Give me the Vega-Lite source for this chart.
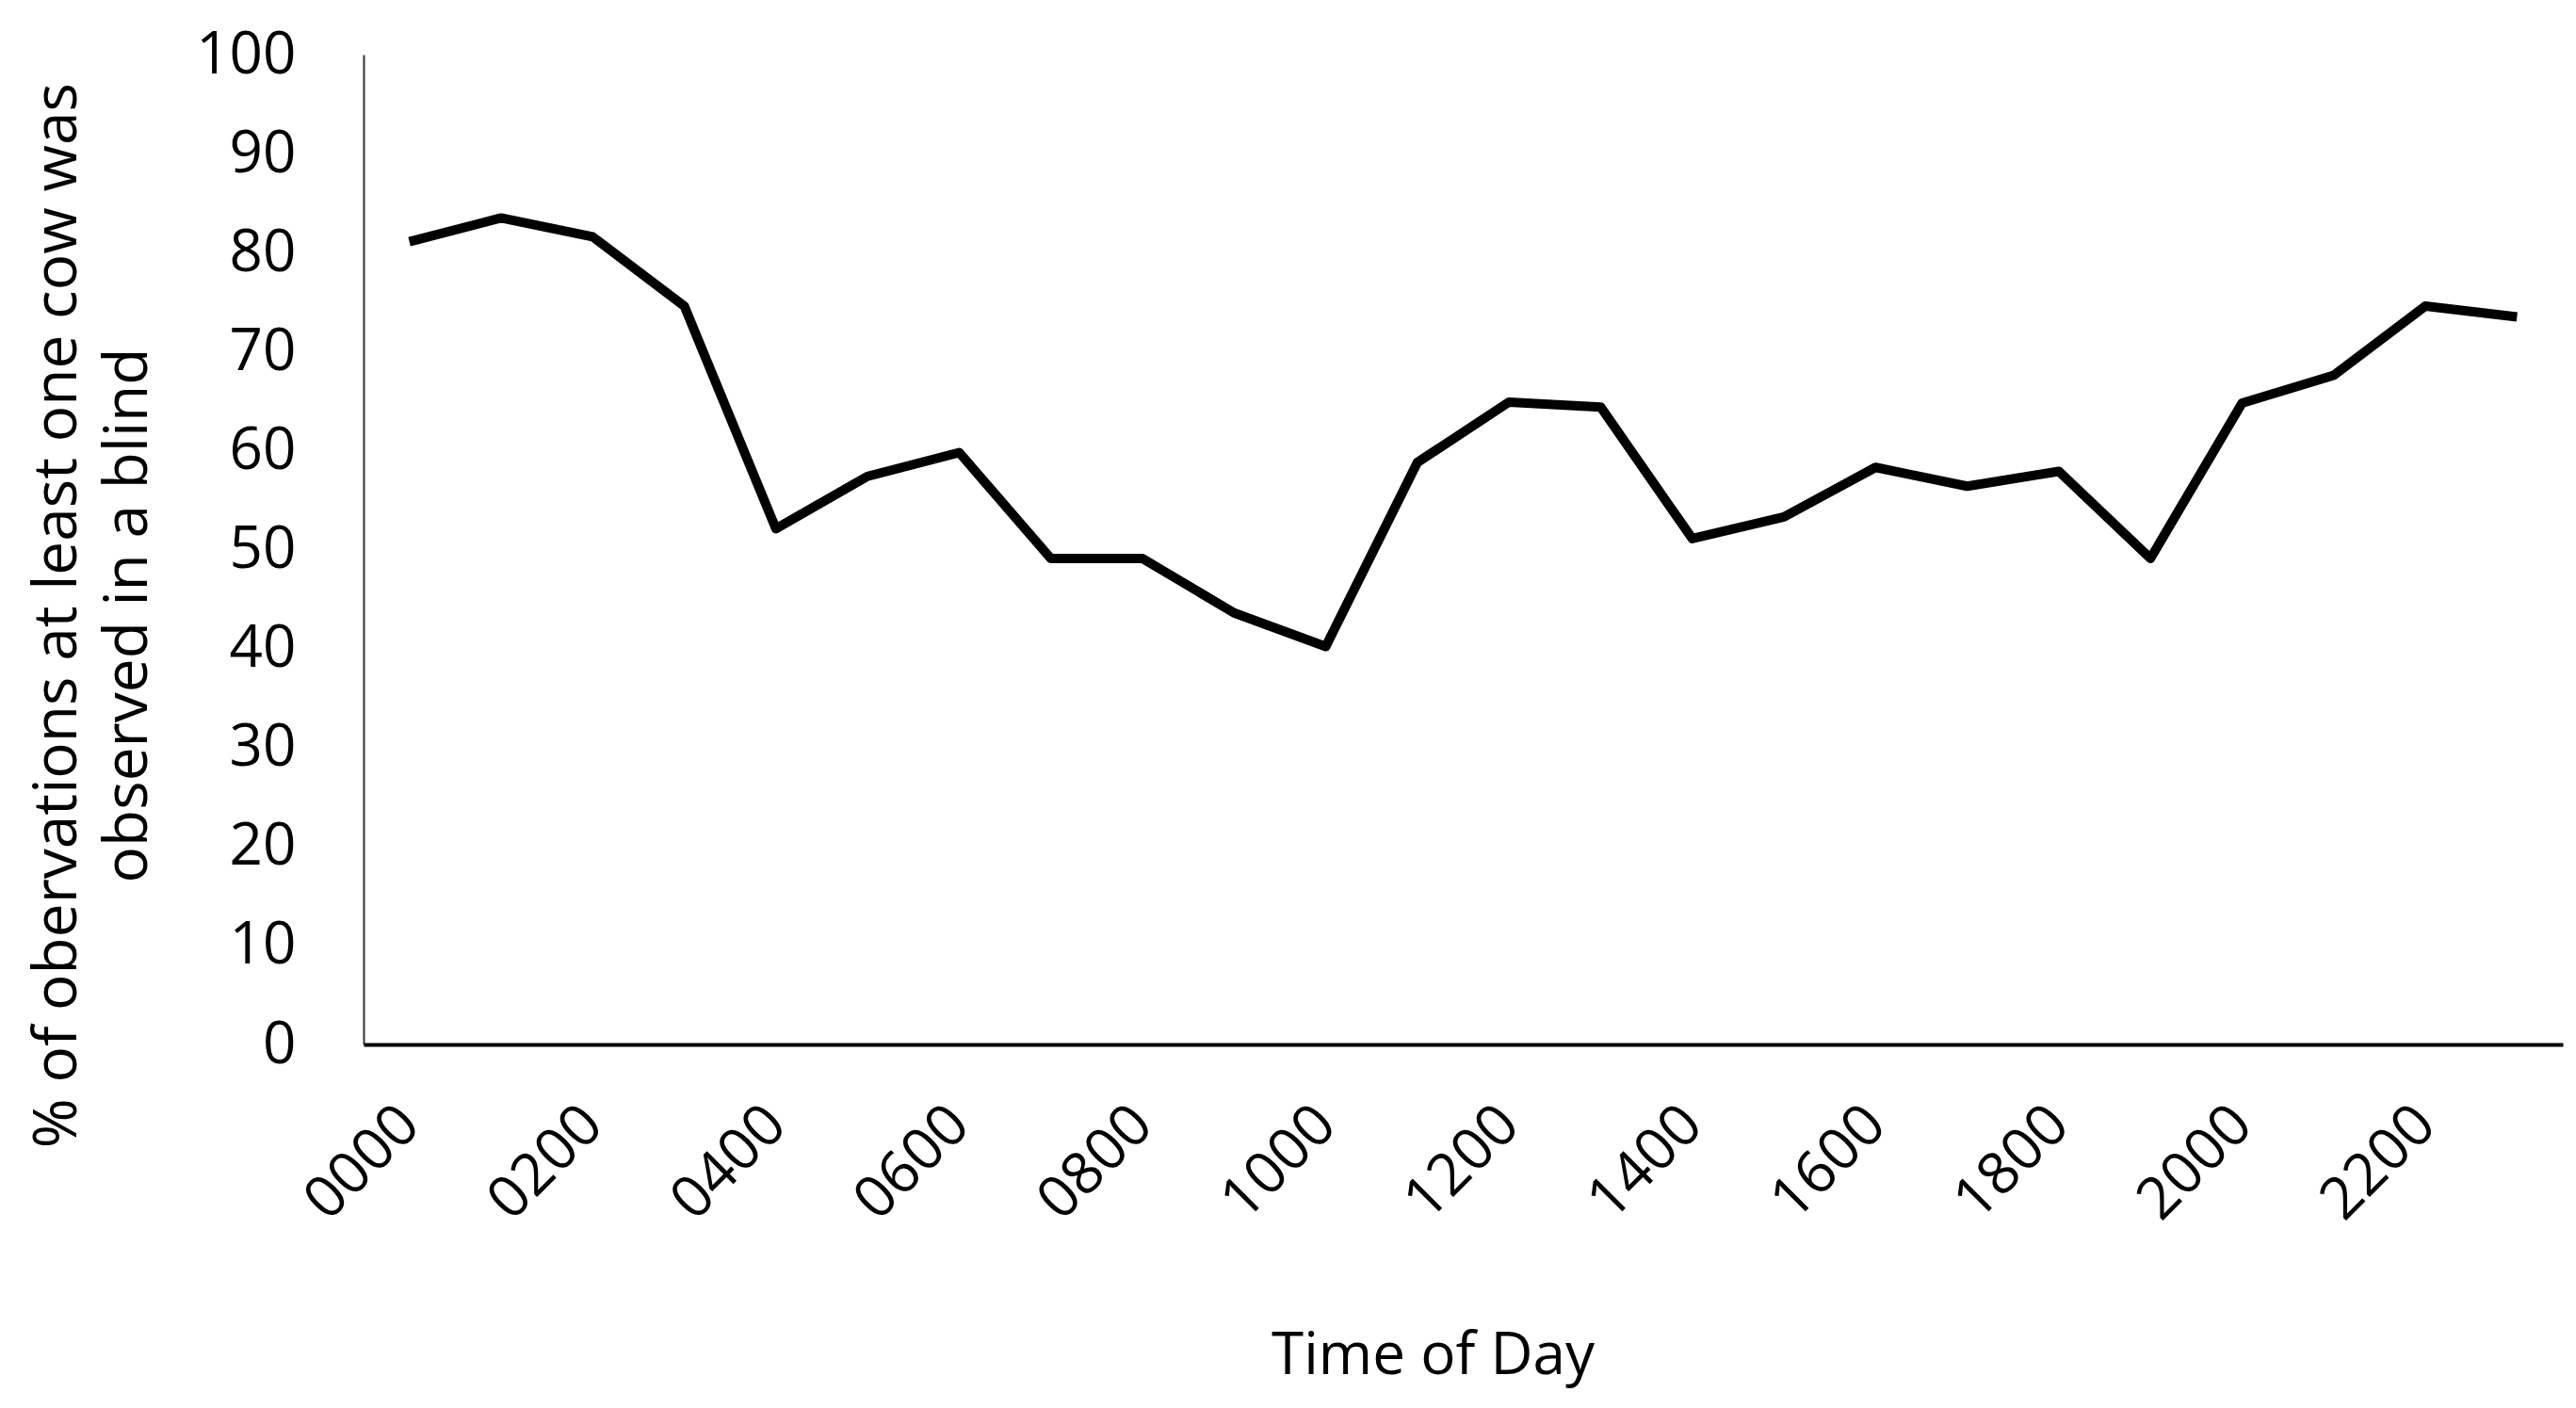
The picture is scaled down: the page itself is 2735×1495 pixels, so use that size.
{
  "$schema": "https://vega.github.io/schema/vega-lite/v6.json",
  "autosize": "none",
  "width": 2335,
  "height": 1051,
  "padding": {"left": 386, "top": 58, "right": 14, "bottom": 386},
  "background": "white",
  "data": {
    "values": [
      {"time": "0000", "pct": 81.1},
      {"time": "0100", "pct": 83.5},
      {"time": "0200", "pct": 81.6},
      {"time": "0300", "pct": 74.6},
      {"time": "0400", "pct": 52.1},
      {"time": "0500", "pct": 57.4},
      {"time": "0600", "pct": 59.8},
      {"time": "0700", "pct": 49.1},
      {"time": "0800", "pct": 49.1},
      {"time": "0900", "pct": 43.6},
      {"time": "1000", "pct": 40.2},
      {"time": "1100", "pct": 58.8},
      {"time": "1200", "pct": 64.9},
      {"time": "1300", "pct": 64.4},
      {"time": "1400", "pct": 51.1},
      {"time": "1500", "pct": 53.3},
      {"time": "1600", "pct": 58.3},
      {"time": "1700", "pct": 56.4},
      {"time": "1800", "pct": 57.9},
      {"time": "1900", "pct": 49.1},
      {"time": "2000", "pct": 64.8},
      {"time": "2100", "pct": 67.6},
      {"time": "2200", "pct": 74.6},
      {"time": "2300", "pct": 73.5}
    ]
  },
  "mark": {"type": "line", "color": "black", "strokeWidth": 10, "strokeJoin": "round", "strokeCap": "butt"},
  "encoding": {
    "x": {
      "field": "time",
      "type": "ordinal",
      "sort": null,
      "scale": {"type": "point", "padding": 0.5},
      "axis": {
        "title": "Time of Day",
        "values": ["0000", "0200", "0400", "0600", "0800", "1000", "1200", "1400", "1600", "1800", "2000", "2200"],
        "labelAngle": -45,
        "labelAlign": "right",
        "labelBaseline": "middle",
        "labelPadding": 75,
        "labelFontSize": 62,
        "ticks": false,
        "domainColor": "black",
        "domainWidth": 4,
        "titleX": 1135,
        "titleY": 330,
        "titleBaseline": "middle",
        "titleAlign": "center",
        "titleFontSize": 62
      }
    },
    "y": {
      "field": "pct",
      "type": "quantitative",
      "scale": {"domain": [0, 100]},
      "axis": {
        "title": ["% of obervations at least one cow was", "observed in a blind"],
        "values": [0, 10, 20, 30, 40, 50, 60, 70, 80, 90, 100],
        "ticks": false,
        "grid": false,
        "labelPadding": 72,
        "labelFontSize": 62,
        "domainColor": "#333333",
        "domainWidth": 2,
        "titleAngle": -90,
        "titleX": -325,
        "titleY": 595,
        "titleAlign": "center",
        "titleBaseline": "middle",
        "titleLineHeight": 75,
        "titleFontSize": 64
      }
    }
  },
  "config": {
    "view": {"stroke": null},
    "axis": {
      "grid": false,
      "labelFont": "Open Sans",
      "titleFont": "Open Sans",
      "labelColor": "black",
      "titleColor": "black",
      "titleFontWeight": "normal"
    }
  }
}
